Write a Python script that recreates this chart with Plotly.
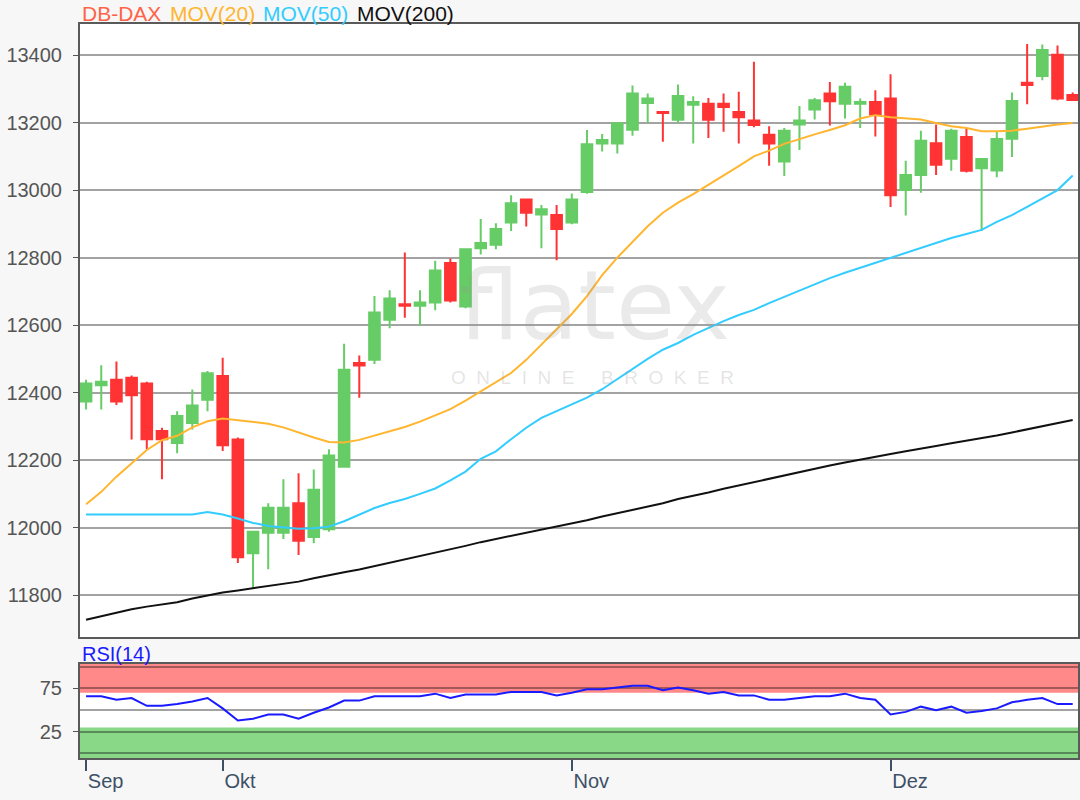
import pandas as pd
import plotly.graph_objects as go

# trading days shown (DB-DAX, 18 Sep 2019 - 18 Dec 2019)
dates = [d.strftime("%Y-%m-%d") for d in pd.bdate_range("2019-09-18", "2019-12-18")]

open_ = [12374, 12422, 12438, 12444, 12427, 12286, 12251, 12310, 12379, 12449,
         12261, 11924, 11985, 11985, 12072, 11972, 11995, 12180, 12488, 12497,
         12616, 12662, 12657, 12667, 12784, 12655, 12828, 12838, 12904, 12972,
         12928, 12926, 12904, 12994, 13138, 13138, 13179, 13258, 13231, 13208,
         13253, 13256, 13256, 13231, 13206, 13164, 13085, 13194, 13239, 13286,
         13256, 13256, 13261, 13271, 13000, 13045, 13139, 13093, 13157, 13065,
         13058, 13152, 13318, 13338, 13401, 13282]
high = [12438, 12481, 12492, 12451, 12432, 12296, 12345, 12409, 12464, 12503,
        12267, 11990, 12072, 12143, 12161, 12172, 12232, 12545, 12510, 12686,
        12703, 12815, 12703, 12791, 12797, 12827, 12914, 12902, 12985, 12974,
        12956, 12956, 12990, 13178, 13166, 13201, 13310, 13286, 13232, 13313,
        13278, 13273, 13286, 13291, 13380, 13189, 13184, 13249, 13273, 13320,
        13318, 13271, 13296, 13343, 13087, 13176, 13194, 13182, 13184, 13093,
        13172, 13289, 13433, 13431, 13428, 13289]
low = [12350, 12350, 12363, 12261, 12232, 12143, 12220, 12291, 12345, 12227,
       11895, 11821, 11877, 11966, 11919, 11954, 11988, 12178, 12385, 12485,
       12591, 12622, 12598, 12644, 12667, 12650, 12809, 12825, 12879, 12892,
       12828, 12792, 12899, 12989, 13114, 13108, 13161, 13199, 13143, 13198,
       13138, 13154, 13173, 13138, 13186, 13072, 13042, 13119, 13209, 13191,
       13212, 13184, 13159, 12950, 12925, 12992, 13045, 13057, 13052, 12879,
       13038, 13098, 13254, 13325, 13266, 13264]
close = [12427, 12432, 12374, 12392, 12262, 12262, 12331, 12362, 12457, 12244,
         11912, 11988, 12059, 12059, 11961, 12112, 12214, 12468, 12480, 12637,
         12679, 12657, 12667, 12762, 12673, 12825, 12843, 12885, 12961, 12933,
         12943, 12885, 12972, 13136, 13148, 13198, 13286, 13271, 13228, 13279,
         13261, 13208, 13246, 13216, 13193, 13138, 13176, 13206, 13266, 13263,
         13306, 13261, 13224, 12985, 13045, 13146, 13075, 13176, 13057, 13092,
         13151, 13264, 13311, 13415, 13271, 13267]

mov20 = [12069, 12106, 12151, 12192, 12230, 12259, 12272, 12297, 12315, 12323,
         12318, 12313, 12308, 12297, 12281, 12267, 12254, 12252, 12260, 12272,
         12284, 12298, 12314, 12332, 12351, 12376, 12404, 12430, 12458, 12497,
         12543, 12590, 12633, 12686, 12748, 12800, 12845, 12893, 12933, 12963,
         12988, 13015, 13043, 13071, 13100, 13117, 13137, 13152, 13165, 13178,
         13192, 13212, 13222, 13216, 13212, 13209, 13199, 13189, 13184, 13174,
         13174, 13176, 13182, 13189, 13194, 13199]
mov50 = [12039, 12039, 12039, 12039, 12039, 12039, 12039, 12039, 12046, 12039,
         12027, 12014, 12005, 12000, 11997, 11998, 12003, 12019, 12039, 12058,
         12073, 12085, 12100, 12116, 12140, 12166, 12204, 12226, 12262, 12296,
         12325, 12345, 12365, 12385, 12410, 12440, 12470, 12500, 12527, 12547,
         12571, 12592, 12612, 12630, 12645, 12665, 12684, 12703, 12722, 12739,
         12755, 12770, 12785, 12798, 12814, 12830, 12845, 12858, 12870, 12882,
         12906, 12926, 12950, 12974, 13000, 13043]
mov200 = [11727, 11738, 11748, 11758, 11766, 11773, 11779, 11790, 11800, 11808,
          11814, 11820, 11826, 11833, 11840, 11850, 11860, 11868, 11876, 11886,
          11896, 11905, 11914, 11924, 11934, 11946, 11957, 11966, 11976, 11985,
          11994, 12002, 12012, 12022, 12033, 12043, 12052, 12062, 12072, 12085,
          12094, 12104, 12115, 12125, 12136, 12146, 12155, 12164, 12174, 12184,
          12193, 12202, 12210, 12218, 12226, 12235, 12242, 12250, 12257, 12264,
          12273, 12282, 12291, 12300, 12309, 12319]
rsi14 = [66, 66, 62, 64, 55, 55, 57, 60, 64, 52,
         38, 40, 45, 45, 40, 47, 53, 61, 61, 66,
         66, 66, 66, 69, 64, 68, 68, 68, 71, 71,
         71, 67, 70, 74, 74, 76, 78, 78, 73, 76,
         73, 69, 71, 67, 67, 62, 62, 64, 66, 66,
         69, 64, 62, 45, 48, 54, 50, 54, 47, 49,
         52, 59, 62, 64, 57, 57]

month_ticks = ["2019-09-18", "2019-10-01", "2019-11-01", "2019-12-02"]
month_labels = ["Sep", "Okt", "Nov", "Dez"]
price_ticks = [11800, 12000, 12200, 12400, 12600, 12800, 13000, 13200, 13400]
rsi_ticks = [25, 75]
rsi_extra_lines = [0, 50, 100]

GREEN = "#66cc66"
RED = "#ff3333"
FONT = "Liberation Sans, Arial, sans-serif"
GRID = "rgba(0,0,0,0.36)"

fig = go.Figure()
fig.add_trace(go.Candlestick(
    x=dates, open=open_, high=high, low=low, close=close,
    increasing=dict(line=dict(color=GREEN, width=2), fillcolor=GREEN),
    decreasing=dict(line=dict(color=RED, width=2), fillcolor=RED),
    whiskerwidth=0, xaxis="x", yaxis="y", showlegend=False))
fig.add_trace(go.Scatter(x=dates, y=mov200, mode="lines",
                         line=dict(color="#111111", width=2), xaxis="x", yaxis="y", showlegend=False))
fig.add_trace(go.Scatter(x=dates, y=mov50, mode="lines",
                         line=dict(color="#33ccff", width=2), xaxis="x", yaxis="y", showlegend=False))
fig.add_trace(go.Scatter(x=dates, y=mov20, mode="lines",
                         line=dict(color="#ffb52e", width=2), xaxis="x", yaxis="y", showlegend=False))
fig.add_trace(go.Scatter(x=dates, y=rsi14, mode="lines",
                         line=dict(color="#1a1aff", width=2), xaxis="x2", yaxis="y2", showlegend=False))

W, H = 1080, 800
xdom = [80 / W, 1078 / W]
frame = dict(showline=True, mirror=True, linecolor="#5a5a5a", linewidth=2)

fig.update_layout(
    width=W, height=H,
    margin=dict(l=0, r=0, t=0, b=0),
    paper_bgcolor="#f7f7f7", plot_bgcolor="#ffffff",
    font=dict(family=FONT, size=20, color="#555555"),
    boxgap=0.3, boxgroupgap=0,
    xaxis=dict(domain=xdom, anchor="y", type="category", matches="x2",
               showticklabels=False, ticks="", showgrid=False,
               rangeslider=dict(visible=False), **frame),
    yaxis=dict(domain=[1 - 637 / H, 1 - 24 / H], anchor="x", range=[11676, 13492],
               tickvals=price_ticks, tickformat="d", ticks="outside", ticklen=5,
               tickcolor="#555555", ticklabelstandoff=7,
               showgrid=True, gridcolor=GRID, gridwidth=1.5, zeroline=False, **frame),
    xaxis2=dict(domain=xdom, anchor="y2", type="category", range=[-0.4, 65.35],
                tickvals=month_ticks, ticktext=month_labels, ticks="outside", ticklen=11,
                tickwidth=1.5, tickcolor="#3d5066", tickfont=dict(color="#3d5066", size=20),
                ticklabelposition="outside right", ticklabelstandoff=4,
                showgrid=False, rangeslider=dict(visible=False), **frame),
    yaxis2=dict(domain=[1 - 758 / H, 1 - 664 / H], anchor="x2", range=[-5.2, 103.2],
                tickvals=rsi_ticks, ticks="outside", ticklen=5,
                tickcolor="#555555", ticklabelstandoff=7,
                showgrid=True, gridcolor=GRID, gridwidth=1.5, zeroline=False,
                minor=dict(tickvals=rsi_extra_lines, showgrid=True, gridcolor=GRID,
                           gridwidth=1.5, ticks=""),
                **frame),
)

# RSI overbought / oversold zones
fig.add_shape(type="rect", xref="x2 domain", yref="y2", x0=0, x1=1, y0=70, y1=103.2,
              fillcolor="#ff8888", line=dict(width=0), layer="below")
fig.add_shape(type="rect", xref="x2 domain", yref="y2", x0=0, x1=1, y0=-5.2, y1=30,
              fillcolor="#88d888", line=dict(width=0), layer="below")

# watermark
fig.add_annotation(text="flatex", x=594 / W, y=1 - 306 / H, xref="paper", yref="paper",
                   showarrow=False,
                   font=dict(family="DejaVu Sans, sans-serif", size=96, color="rgba(150,150,150,0.2)"))
nb = "\u00a0"
wm = (2 * nb).join("ONLINE") + 5 * nb + (2 * nb).join("BROKER")
fig.add_annotation(text=wm, x=592 / W, y=1 - 378 / H, xref="paper", yref="paper",
                   showarrow=False, font=dict(family=FONT, size=19, color="rgba(150,150,150,0.25)"))

# legend-like header
header = [("DB-DAX", "#ff6347", 80), ("MOV(20)", "#ffb52e", 168), ("MOV(50)", "#33ccff", 261),
          ("MOV(200)", "#111111", 355)]
for txt, col, px in header:
    fig.add_annotation(text=txt, x=px / W, y=1 - 14 / H, xref="paper", yref="paper",
                       xanchor="left", yanchor="middle", showarrow=False,
                       font=dict(family=FONT, size=21, color=col))
fig.add_annotation(text="RSI(14)", x=80 / W, y=1 - 654 / H, xref="paper", yref="paper",
                   xanchor="left", yanchor="middle", showarrow=False,
                   font=dict(family=FONT, size=20, color="#1a1aff"))

fig.write_html("out.html", config={"displayModeBar": False},
               post_script="document.body.style.margin='0';")
